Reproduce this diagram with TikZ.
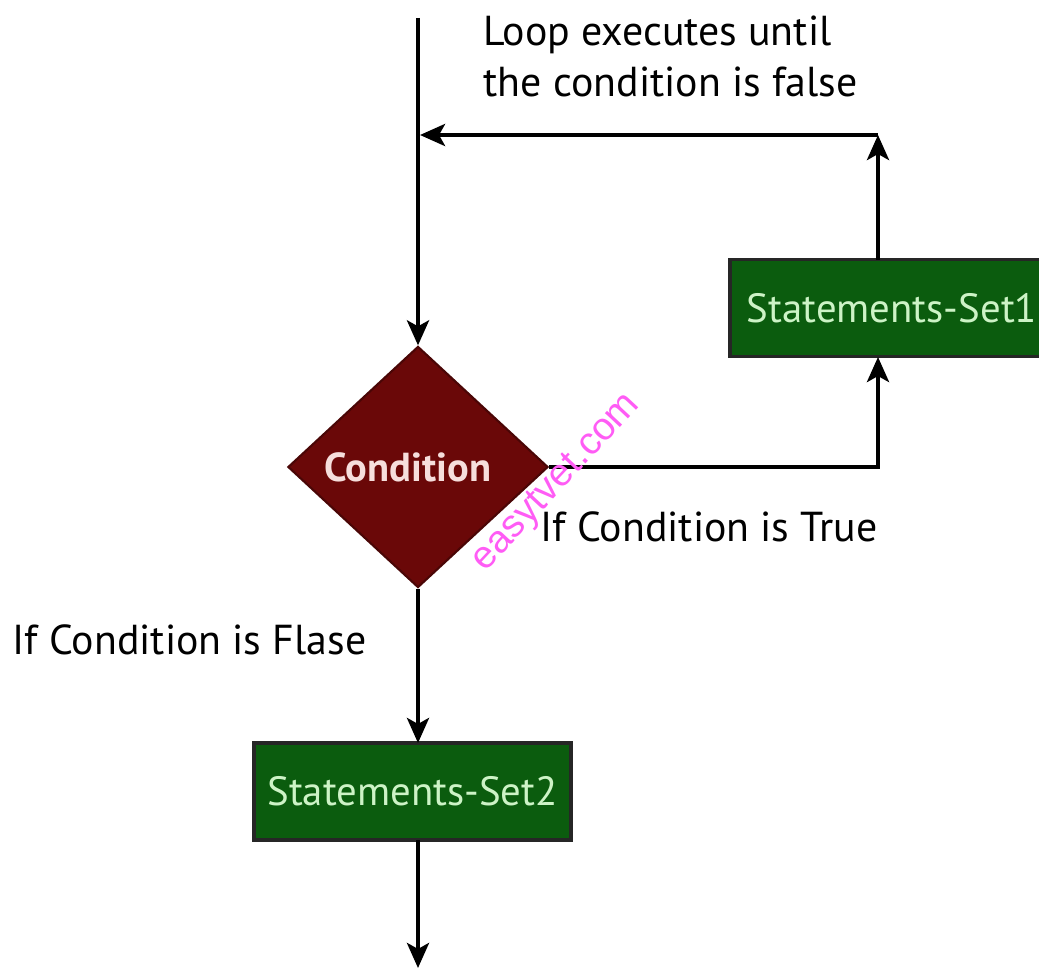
\documentclass[tikz,border=0pt]{standalone}
\usepackage{fontspec}
\setmainfont{PT Sans}
\newfontfamily\markfont{Liberation Sans}
\usetikzlibrary{shapes.geometric,arrows.meta,calc}
\definecolor{condred}{HTML}{6A0808}
\definecolor{stmtgreen}{HTML}{0B5C0E}
\definecolor{stmttext}{HTML}{CDF3C6}
\definecolor{condtext}{HTML}{F6DEDC}
\definecolor{markpink}{HTML}{FF5CF5}
\tikzset{
  flow/.style={line width=1.2pt, -{Stealth[length=0.25cm,width=0.22cm,inset=0.06cm]}},
  stmtbox/.style={rectangle, draw=black!85, line width=1pt, fill=stmtgreen,
    text=stmttext, font=\fontsize{11.6}{14}\selectfont, inner sep=0pt},
  decision/.style={diamond, fill=condred, draw=condred!70!black, line width=0.6pt,
    text=condtext, font=\bfseries\fontsize{11.5}{13}\selectfont, inner sep=0pt,
    aspect=1.08, minimum width=2.6cm, minimum height=2.41cm},
  lbl/.style={text=black, font=\fontsize{11.9}{15}\selectfont, inner sep=0pt}
}
\begin{document}
\begin{tikzpicture}[x=0.01cm,y=-0.01cm]
\useasboundingbox (0,0) rectangle (1039,970);
% shapes
\node[decision] (cond) at (418,467) {\hspace*{-0.2cm}Condition};
\node[stmtbox, minimum width=3.24cm, minimum height=0.97cm] (s1) at (892,308) {Statements-Set1};
\node[stmtbox, minimum width=3.17cm, minimum height=0.97cm] (s2) at (412.5,791.5) {Statements-Set2};
% free ends and bends
\coordinate (top) at (418,18);
\coordinate (loopL) at (418,135);
\coordinate (loopR) at (878,135);
\coordinate (trueR) at (878,467);
\coordinate (s1bot) at (878,357);
\coordinate (s1top) at (878,260);
\coordinate (s2top) at (418,743);
\coordinate (s2bot) at (418,840);
\coordinate (exit) at (418,968);
% connectors
\draw[flow] (top) -- (cond.north);
\draw[flow] (loopR) -- ($(loopL)+(2,0)$);
\draw[flow] (cond.east) -- (trueR) -- (s1bot);
\draw[flow] (s1top) -- (loopR);
\draw[flow] (cond.south) -- (s2top);
\draw[flow] (s2bot) -- (exit);
% labels
\node[lbl, anchor=north west, align=left] (looplbl) at (483,15) {Loop executes until\\[-0.5pt]the condition is false};
\node[lbl, anchor=west] (truelbl) at (540,527) {If Condition is True};
\node[lbl, anchor=west] (falselbl) at (12,640) {If Condition is Flase};
\node[text=markpink, font=\markfont\fontsize{11}{13}\selectfont, rotate=47, inner sep=0pt] (mark) at (557,483) {easytvet.com};
\end{tikzpicture}
\end{document}
